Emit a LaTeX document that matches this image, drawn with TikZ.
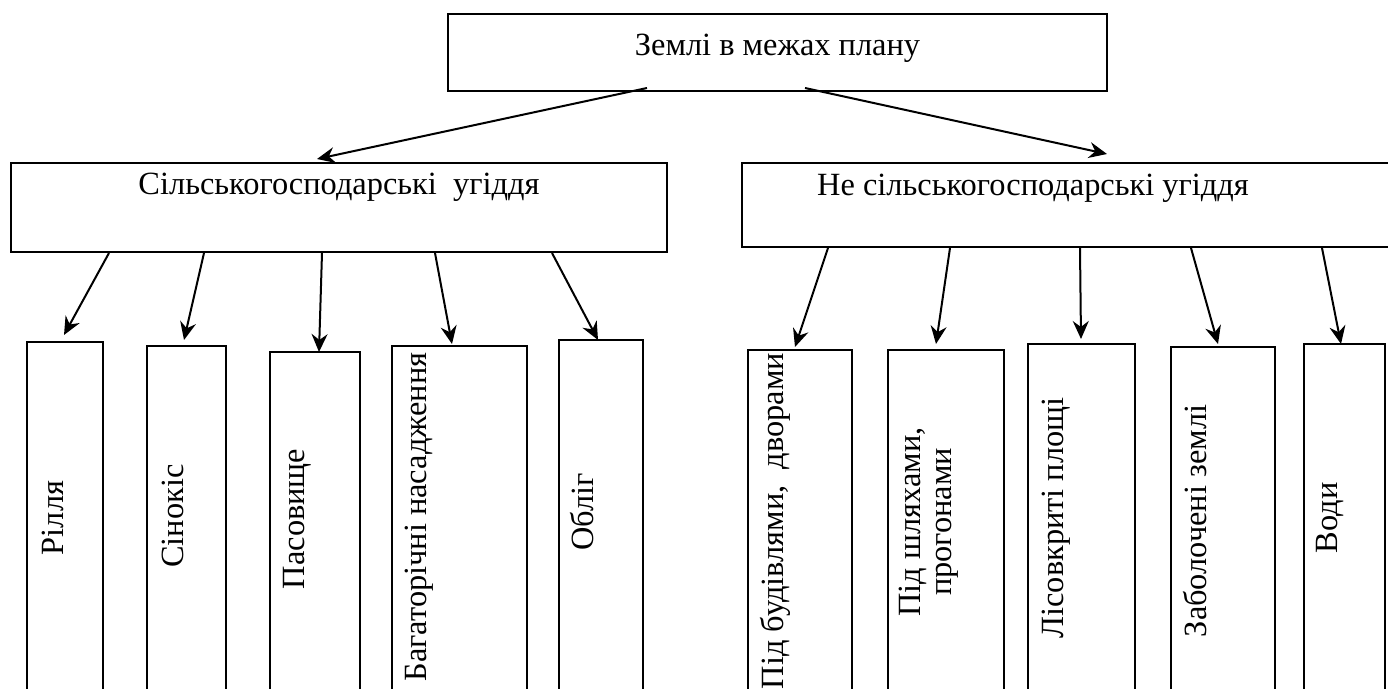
\documentclass[tikz,border=0pt]{standalone}
\usepackage{fontspec}
\setmainfont{Liberation Serif}
\usetikzlibrary{arrows.meta}
\tikzset{
  box/.style={draw=black, line width=1pt, inner sep=0pt},
  txt/.style={font=\fontsize{16.2pt}{15.5pt}\selectfont, inner sep=0pt, anchor=base},
  vtxt/.style={txt, rotate=90},
  arrow/.style={-{Stealth[length=9pt,width=8pt,inset=3pt]}, line width=1pt},
}

\begin{document}
\begin{tikzpicture}[x=0.5pt, y=-0.5pt]
  \useasboundingbox (0,0) rectangle (1388,689);
  \clip (0,0) rectangle (1388,689);

  % top level
  \node[box, minimum width=329.5pt, minimum height=38.5pt] (top) at (777.5,52.5) {};
  \node[txt] (topt) at (777.5,56) {Землі в межах плану};

  % second level
  \node[box, minimum width=328pt, minimum height=44.5pt] (agri) at (339,207.5) {};
  \node[txt] (agrit) at (339,195) {Сільськогосподарські\ \ угіддя};
  \node[box, minimum width=339pt, minimum height=42pt] (nonagri) at (1081,205) {};
  \node[txt] (nonagrit) at (1033,196) {Не сільськогосподарські угіддя};

  % agricultural lands
  \node[box, minimum width=38pt, minimum height=175pt] (rillia) at (65,517) {};
  \node[box, minimum width=39.5pt, minimum height=173pt] (sinokis) at (186.5,519) {};
  \node[box, minimum width=45pt, minimum height=170pt] (pasov) at (315,522) {};
  \node[box, minimum width=67.5pt, minimum height=173pt] (bahat) at (459.5,519) {};
  \node[box, minimum width=42pt, minimum height=176pt] (oblih) at (601,516) {};
  \node[vtxt] (rilliat) at (63,518) {Рілля};
  \node[vtxt] (sinokist) at (183,516) {Сінокіс};
  \node[vtxt] (pasovt) at (304,519) {Пасовище};
  \node[vtxt] (bahatt) at (426,517) {Багаторічні насадження};
  \node[vtxt] (oblihtxt) at (593,512) {Обліг};

  % non-agricultural lands
  \node[box, minimum width=52pt, minimum height=171pt] (budiv) at (800,521) {};
  \node[box, minimum width=58pt, minimum height=171pt] (shliakh) at (946,521) {};
  \node[box, minimum width=53.5pt, minimum height=174pt] (lisovk) at (1081.5,518) {};
  \node[box, minimum width=52pt, minimum height=172.5pt] (zabol) at (1223,519.5) {};
  \node[box, minimum width=40.5pt, minimum height=174pt] (vody) at (1344.5,518) {};
  \node[vtxt] (budivt) at (783,521) {Під будівлями,\ \ дворами};
  \node[vtxt, anchor=center, align=center] (shliakht) at (929,522) {Під шляхами,\\прогонами};
  \node[vtxt] (lisovkt) at (1063,518) {Лісовкриті площі};
  \node[vtxt] (zabolt) at (1206,521) {Заболочені землі};
  \node[vtxt] (vodyt) at (1337,518) {Води};

  % arrows
  \draw[arrow] ([shift={(-130.5,-4)}]top.south) -- ([shift={(-22,-3)}]agri.north);
  \draw[arrow] ([shift={(27.5,-4)}]top.south) -- ([shift={(366,-8)}]nonagri.north west);

  \draw[arrow] ([shift={(99,0)}]agri.south west) -- ([shift={(-1,-6)}]rillia.north);
  \draw[arrow] ([shift={(194,0)}]agri.south west) -- ([shift={(-2.5,-5)}]sinokis.north);
  \draw[arrow] ([shift={(312,0)}]agri.south west) -- ([shift={(4,1)}]pasov.north);
  \draw[arrow] ([shift={(425,0)}]agri.south west) -- ([shift={(-7.5,-1)}]bahat.north);
  \draw[arrow] ([shift={(542,0)}]agri.south west) -- ([shift={(-3,1)}]oblih.north);

  \draw[arrow] ([shift={(87,0)}]nonagri.south west) -- ([shift={(-5,-2)}]budiv.north);
  \draw[arrow] ([shift={(209,0)}]nonagri.south west) -- ([shift={(-10,-5)}]shliakh.north);
  \draw[arrow] ([shift={(339,0)}]nonagri.south west) -- ([shift={(-0.5,-4)}]lisovk.north);
  \draw[arrow] ([shift={(450,0)}]nonagri.south west) -- ([shift={(-5,-2)}]zabol.north);
  \draw[arrow] ([shift={(581,0)}]nonagri.south west) -- ([shift={(-3.5,1)}]vody.north);
\end{tikzpicture}
\end{document}
